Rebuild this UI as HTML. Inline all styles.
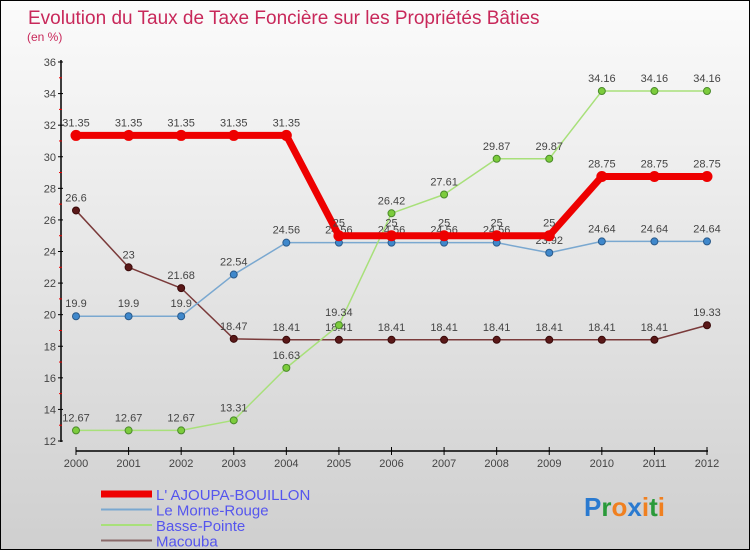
<!DOCTYPE html>
<html><head><meta charset="utf-8">
<style>
body{margin:0;}
#wrap{width:750px;height:550px;position:relative;overflow:hidden;box-sizing:border-box;border:1px solid #000;background:linear-gradient(#fbfbfb,#cfcfcf);font-family:"Liberation Sans",sans-serif;}
</style></head><body>
<div id="wrap">
<svg id="chart" width="750" height="550"></svg>
</div>
<script>
const years=["2000","2001","2002","2003","2004","2005","2006","2007","2008","2009","2010","2011","2012"];
const ajoupa=[31.35,31.35,31.35,31.35,31.35,25,25,25,25,25,28.75,28.75,28.75];
const morne=[19.9,19.9,19.9,22.54,24.56,24.56,24.56,24.56,24.56,23.92,24.64,24.64,24.64];
const basse=[12.67,12.67,12.67,13.31,16.63,19.34,26.42,27.61,29.87,29.87,34.16,34.16,34.16];
const macouba=[26.6,23,21.68,18.47,18.41,18.41,18.41,18.41,18.41,18.41,18.41,18.41,19.33];
const yTicks=[12,14,16,18,20,22,24,26,28,30,32,34,36];
const NS="http://www.w3.org/2000/svg";
const svg=document.getElementById('chart');
const x=i=>75+i*(631/12);
const y=v=>440-(v-12)*(379/24);
function mk(t,a,p){const e=document.createElementNS(NS,t);for(const k in a)e.setAttribute(k,a[k]);(p||svg).appendChild(e);return e;}
let t=mk('text',{x:27,y:23,fill:'#c8285a','font-size':19});t.textContent='Evolution du Taux de Taxe Foncière sur les Propriétés Bâties';

t=mk('text',{x:26,y:40,fill:'#c8285a','font-size':12});t.textContent='(en %)';

// axes
let ax=mk('line',{x1:60,y1:59,x2:60,y2:441,stroke:'#000','stroke-width':1.5});

yTicks.forEach(v=>{mk('line',{x1:57,y1:y(v),x2:62,y2:y(v),stroke:'#000'});
 const l=mk('text',{x:55,y:y(v)+4,'text-anchor':'end','font-size':11,fill:'#444'});l.textContent=v;
 
 if(v<36)mk('line',{x1:58,y1:y(v+1),x2:61,y2:y(v+1),stroke:'#e00'});});
ax=mk('line',{x1:75,y1:450,x2:707,y2:450,stroke:'#000','stroke-width':1.5});

years.forEach((yr,i)=>{mk('line',{x1:x(i),y1:446,x2:x(i),y2:454,stroke:'#000'});
 const l=mk('text',{x:x(i),y:466,'text-anchor':'middle','font-size':11,fill:'#444'});l.textContent=yr;
 });
function series(d,col,w,dot,dotStroke,r,name){
 const g=mk('g',{});
 mk('polyline',{points:d.map((v,i)=>x(i)+','+y(v)).join(' '),fill:'none',stroke:col,'stroke-width':w,'stroke-linejoin':'round'},g);
 d.forEach((v,i)=>{const c=mk('circle',{cx:x(i),cy:y(v),r:r,fill:dot,stroke:dotStroke,'stroke-width':1},g);
  
  const l=mk('text',{x:x(i),y:y(v)-9,'text-anchor':'middle','font-size':11,fill:'#444'},g);l.textContent=v;
  });
}
series(macouba,'#7a3a3a',1.5,'#5a1818','#3a0a0a',3.5,'series-macouba');
series(morne,'#7aa8d0',1.5,'#3f88cc','#2a5a8a',3.5,'series-morne-rouge');
series(basse,'#a8e07a',1.5,'#7ccc3c','#4a8a2a',3.5,'series-basse-pointe');
series(ajoupa,'#ee0000',7,'#ee0000','#ee0000',5,'series-ajoupa-bouillon');
// legend
const leg=[['L\' AJOUPA-BOUILLON','#ee0000',7],['Le Morne-Rouge','#7aa8d0',2],['Basse-Pointe','#a8e07a',2],['Macouba','#8a6a6a',2]];
leg.forEach((e,i)=>{const yy=493+i*15.5;
 const g=mk('g',{});
 mk('line',{x1:100,y1:yy,x2:151,y2:yy,stroke:e[1],'stroke-width':e[2]},g);
 const l=mk('text',{x:155,y:yy+6,'font-size':15,fill:'#5555ee'},g);l.textContent=e[0];});
// logo
const lg=mk('text',{x:583,y:515,'font-size':26,'font-weight':'bold'});

[['P','#2a7ad0'],['r','#2a9a3a'],['o','#f08020'],['x','#2a7ad0'],['i','#f08020'],['t','#2a9a3a'],['i','#f08020']].forEach(c=>{const s=mk('tspan',{fill:c[1]},lg);s.textContent=c[0];});
</script>
</body></html>
